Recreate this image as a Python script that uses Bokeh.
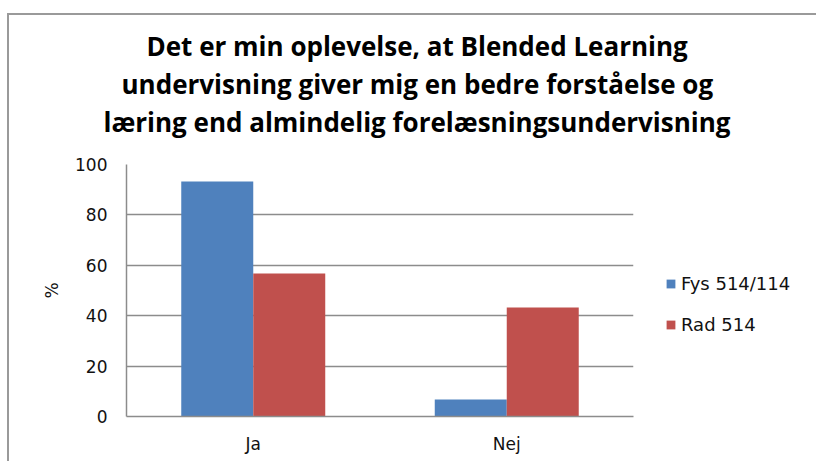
from bokeh.plotting import figure
from bokeh.models import FactorRange, Range1d, Legend, LegendItem, ColumnDataSource, Title
from bokeh.transform import dodge
from bokeh.embed import file_html
from bokeh.resources import INLINE

# ---- data ----
categories = ["Ja", "Nej"]
series_names = ["Fys 514/114", "Rad 514"]
fys_values = [93.3, 6.7]
rad_values = [56.7, 43.3]
y_ticks = [0, 20, 40, 60, 80, 100]
title_lines = [
    "Det er min oplevelse, at Blended Learning",
    "undervisning giver mig en bedre forståelse og",
    "læring end almindelig forelæsningsundervisning",
]
y_label = "%"

BLUE = "#4F81BD"
RED = "#C0504D"
GRID = "#8c8c8c"
TXT_FONT = "DejaVu Sans"
TITLE_FONT = "Open Sans"

src = ColumnDataSource(dict(cat=categories, fys=fys_values, rad=rad_values))

p = figure(
    title=None,
    x_range=FactorRange(*categories, range_padding=0),
    y_range=Range1d(0, 100),
    frame_width=507, frame_height=252,
    width=806, height=446,
    min_border_left=117, min_border_right=182,
    min_border_top=149, min_border_bottom=45,
    output_backend="svg", toolbar_location=None,
    background_fill_color="white", border_fill_color="white",
    styles={"border-left": "2px solid #9a9a9a", "border-top": "2px solid #9a9a9a",
            "margin-top": "13px", "margin-left": "7px"},
)
p.outline_line_color = None

r1 = p.vbar(x=dodge("cat", -0.142, range=p.x_range), top="fys", width=0.284,
            source=src, fill_color=BLUE, line_color=None)
r2 = p.vbar(x=dodge("cat", 0.142, range=p.x_range), top="rad", width=0.284,
            source=src, fill_color=RED, line_color=None)

# axes
p.yaxis.ticker = y_ticks
p.yaxis.axis_line_color = GRID
p.yaxis.axis_line_width = 1.5
p.yaxis.major_tick_line_color = None
p.yaxis.minor_tick_line_color = None
p.yaxis.major_tick_out = 0
p.yaxis.major_tick_in = 0
p.yaxis.major_label_standoff = 19
p.yaxis.major_label_text_font = TXT_FONT
p.yaxis.major_label_text_font_size = "17px"
p.yaxis.major_label_text_color = "#111111"
p.yaxis.axis_label = y_label
p.yaxis.axis_label_text_font = TXT_FONT
p.yaxis.axis_label_text_font_size = "17px"
p.yaxis.axis_label_text_font_style = "normal"
p.yaxis.axis_label_text_color = "#111111"
p.yaxis.axis_label_standoff = 10

p.xaxis.axis_line_color = GRID
p.xaxis.axis_line_width = 1.5
p.xaxis.major_tick_line_color = None
p.xaxis.minor_tick_line_color = None
p.xaxis.major_tick_out = 0
p.xaxis.major_tick_in = 0
p.xaxis.major_label_standoff = 17
p.xaxis.major_label_text_font = TXT_FONT
p.xaxis.major_label_text_font_size = "17px"
p.xaxis.major_label_text_color = "#111111"

p.xgrid.grid_line_color = None
p.ygrid.grid_line_color = GRID
p.ygrid.grid_line_width = 1.5

# spacer between title block and plot area
p.add_layout(Title(text=" ", text_font=TITLE_FONT, text_font_size="10px",
                   standoff=9), "above")
# title: three lines, nearest-to-frame first; left-aligned with offsets so that
# each line is centred over the chart box rather than the plot area
title_offsets = [20, -5, -23]
for line, off in zip(reversed(title_lines), reversed(title_offsets)):
    p.add_layout(Title(text=line, align="left", offset=off, text_font=TITLE_FONT,
                       text_font_style="bold", text_font_size="26px",
                       text_color="#000000", standoff=0), "above")

legend = Legend(
    items=[LegendItem(label=series_names[0], renderers=[r1]),
           LegendItem(label=series_names[1], renderers=[r2])],
    location=(32, 81), orientation="vertical",
    glyph_width=11, glyph_height=11, label_height=11, label_standoff=5,
    spacing=20, padding=0, margin=0, border_line_color=None,
    background_fill_alpha=0,
    label_text_font=TXT_FONT, label_text_font_size="18px", label_text_color="#111111",
)
p.add_layout(legend, "right")

open("out.html", "w").write(file_html(p, INLINE))
